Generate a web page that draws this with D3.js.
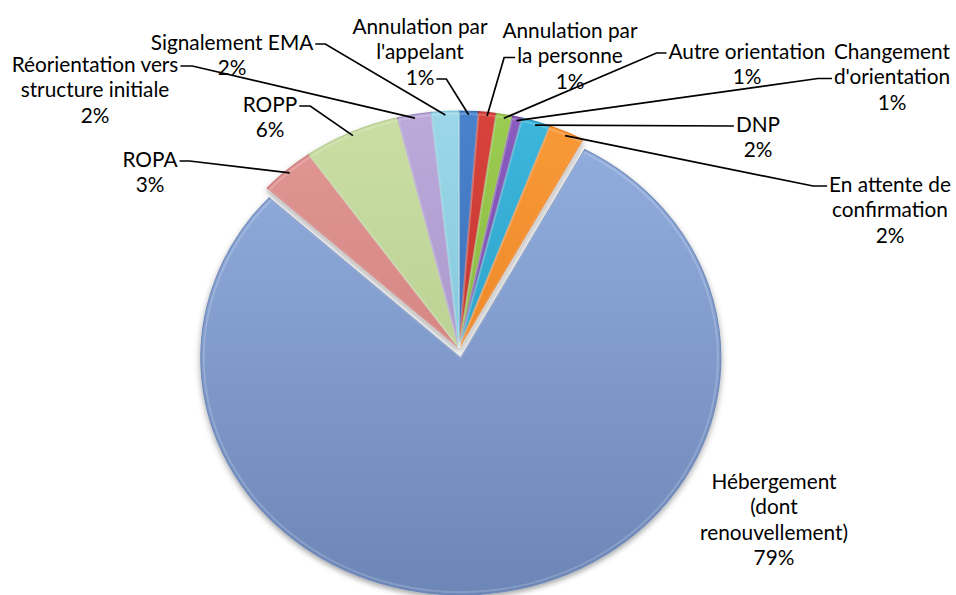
<!DOCTYPE html>
<html>
<head>
<meta charset="utf-8">
<script src="https://cdn.jsdelivr.net/npm/d3@7"></script>
<style>
  html, body { margin: 0; padding: 0; background: #ffffff; }
  svg { display: block; }
  text { font-family: Lato, "Noto Sans", sans-serif; fill: #000; }
</style>
</head>
<body>
<svg id="chart" width="956" height="595"></svg>
<script>
// ---- data ----
const categories = [
  "Annulation par l'appelant",
  "Annulation par la personne",
  "Autre orientation",
  "Changement d'orientation",
  "DNP",
  "En attente de confirmation",
  "Hébergement (dont renouvellement)",
  "ROPA",
  "ROPP",
  "Réorientation vers structure initiale",
  "Signalement EMA"
];
const values = [1.2, 1.1, 1.0, 0.6, 1.8, 2.2, 78.9, 3.4, 6.0, 2.1, 1.7];
const labelLines = [
  ["Annulation par", "l'appelant"],
  ["Annulation par", "la personne"],
  ["Autre orientation"],
  ["Changement", "d'orientation"],
  ["DNP"],
  ["En attente de", "confirmation"],
  ["Hébergement", "(dont", "renouvellement)"],
  ["ROPA"],
  ["ROPP"],
  ["Réorientation vers", "structure initiale"],
  ["Signalement EMA"]
];
const exploded = ["Hébergement (dont renouvellement)"];

// ---- style / layout ----
const colorsTop = ["#4a82cc", "#d8433c", "#9ccb52", "#8a5cbf", "#3cb6dc", "#f99a38", "#93afdf", "#e29896", "#cadea4", "#bcaadb", "#9bd7e8"];
const colorsBot = ["#2f63ad", "#b42c26", "#7dab35", "#6a3f9c", "#2592bb", "#e2771a", "#6c86b7", "#c87573", "#aec785", "#9c88bf", "#72bdd3"];
const cx = 459, cy = 348, rx = 260, ry = 237, explodeDist = 11;
const k = ry / rx;
// label layout: center x, first line y; leader attaches to line `ln` on `side`, elbow length `el`
const labelLayout = [
  {x: 420, y: 25, ln: 2, side: "right", el: 10},
  {x: 570, y: 29, ln: 1, side: "left", el: 11},
  {x: 747, y: 50, ln: 0, side: "left", el: 10},
  {x: 892, y: 50, ln: 1, side: "left", el: 14},
  {x: 758, y: 123, ln: 0, side: "left", el: 0},
  {x: 890, y: 183, ln: 0, side: "left", el: 14},
  {x: 774, y: 480, ln: null},
  {x: 150, y: 158, ln: 0, side: "right", el: 10},
  {x: 270, y: 103, ln: 0, side: "right", el: 11},
  {x: 95, y: 63, ln: 0, side: "right", el: 12},
  {x: 232, y: 41, ln: 0, side: "right", el: 10}
];
const fontSize = 20.8, lineH = 25.5;

const svg = d3.select("#chart");
const defs = svg.append("defs");
const shadow = defs.append("filter").attr("id", "shadow").attr("x", "-20%").attr("y", "-20%").attr("width", "140%").attr("height", "140%");
shadow.append("feDropShadow").attr("dx", 0).attr("dy", 3).attr("stdDeviation", 3).attr("flood-color", "#000").attr("flood-opacity", 0.35);

categories.forEach((c, i) => {
  const g = defs.append("linearGradient").attr("id", "grad" + i)
    .attr("gradientUnits", "userSpaceOnUse")
    .attr("x1", 0).attr("y1", -rx).attr("x2", 0).attr("y2", rx);
  g.append("stop").attr("offset", "0%").attr("stop-color", colorsTop[i]);
  g.append("stop").attr("offset", "100%").attr("stop-color", colorsBot[i]);
});

const total = d3.sum(values);
const pie = d3.pie().sort(null).value(d => d).startAngle(0).endAngle(2 * Math.PI);
const arcs = pie(values);
const arc = d3.arc().innerRadius(0).outerRadius(rx);

const pieG = svg.append("g")
  .attr("transform", `translate(${cx},${cy}) scale(1,${k})`)
  .attr("filter", "url(#shadow)");

function offsetOf(d, i) {
  if (!exploded.includes(categories[i])) return [0, 0];
  const m = (d.startAngle + d.endAngle) / 2;
  return [explodeDist * Math.sin(m), -explodeDist * Math.cos(m)];
}

pieG.selectAll("path.slice")
  .data(arcs)
  .join("path")
  .attr("class", "slice")
  .attr("d", arc)
  .attr("transform", (d, i) => { const o = offsetOf(d, i); return `translate(${o[0]},${o[1]})`; })
  .attr("fill", (d, i) => `url(#grad${i})`)
  .attr("stroke", (d, i) => colorsBot[i])
  .attr("stroke-opacity", 0.9)
  .attr("stroke-width", 1.2)
  .attr("vector-effect", "non-scaling-stroke");

// subtle highlight along edges (bevel look)
pieG.selectAll("path.hl")
  .data(arcs)
  .join("path")
  .attr("class", "hl")
  .attr("d", d3.arc().innerRadius(0).outerRadius(rx - 3))
  .attr("transform", (d, i) => { const o = offsetOf(d, i); return `translate(${o[0]},${o[1]})`; })
  .attr("fill", "none")
  .attr("stroke", "#ffffff")
  .attr("stroke-opacity", 0.18)
  .attr("stroke-width", 2)
  .attr("vector-effect", "non-scaling-stroke");

const leaders = svg.append("g");
const labels = svg.append("g");

arcs.forEach((d, i) => {
  const L = labelLayout[i];
  const lines = labelLines[i].concat([Math.round(d.data / total * 100) + "%"]);
  const t = labels.append("text")
    .attr("text-anchor", "middle")
    .attr("font-size", fontSize);
  const spans = [];
  lines.forEach((s, j) => {
    spans.push(t.append("tspan")
      .attr("x", L.x)
      .attr("y", L.y + j * lineH)
      .attr("dominant-baseline", "central")
      .text(s));
  });
  if (L.ln == null) return;
  // leader line from label to slice edge
  const w = spans[L.ln].node().getComputedTextLength();
  const ly = L.y + L.ln * lineH + 3;
  const lx = L.side === "right" ? L.x + w / 2 + 2 : L.x - w / 2 - 2;
  const ex = L.side === "right" ? lx + L.el : lx - L.el;
  const m = (d.startAngle + d.endAngle) / 2;
  const o = offsetOf(d, i);
  const r = rx - 4;
  const px = cx + o[0] + r * Math.sin(m);
  const py = cy + (o[1] - r * Math.cos(m)) * k;
  leaders.append("path")
    .attr("d", d3.line()([[lx, ly], [ex, ly], [px, py]]))
    .attr("fill", "none")
    .attr("stroke", "#000")
    .attr("stroke-width", 1.7);
});
</script>
</body>
</html>
